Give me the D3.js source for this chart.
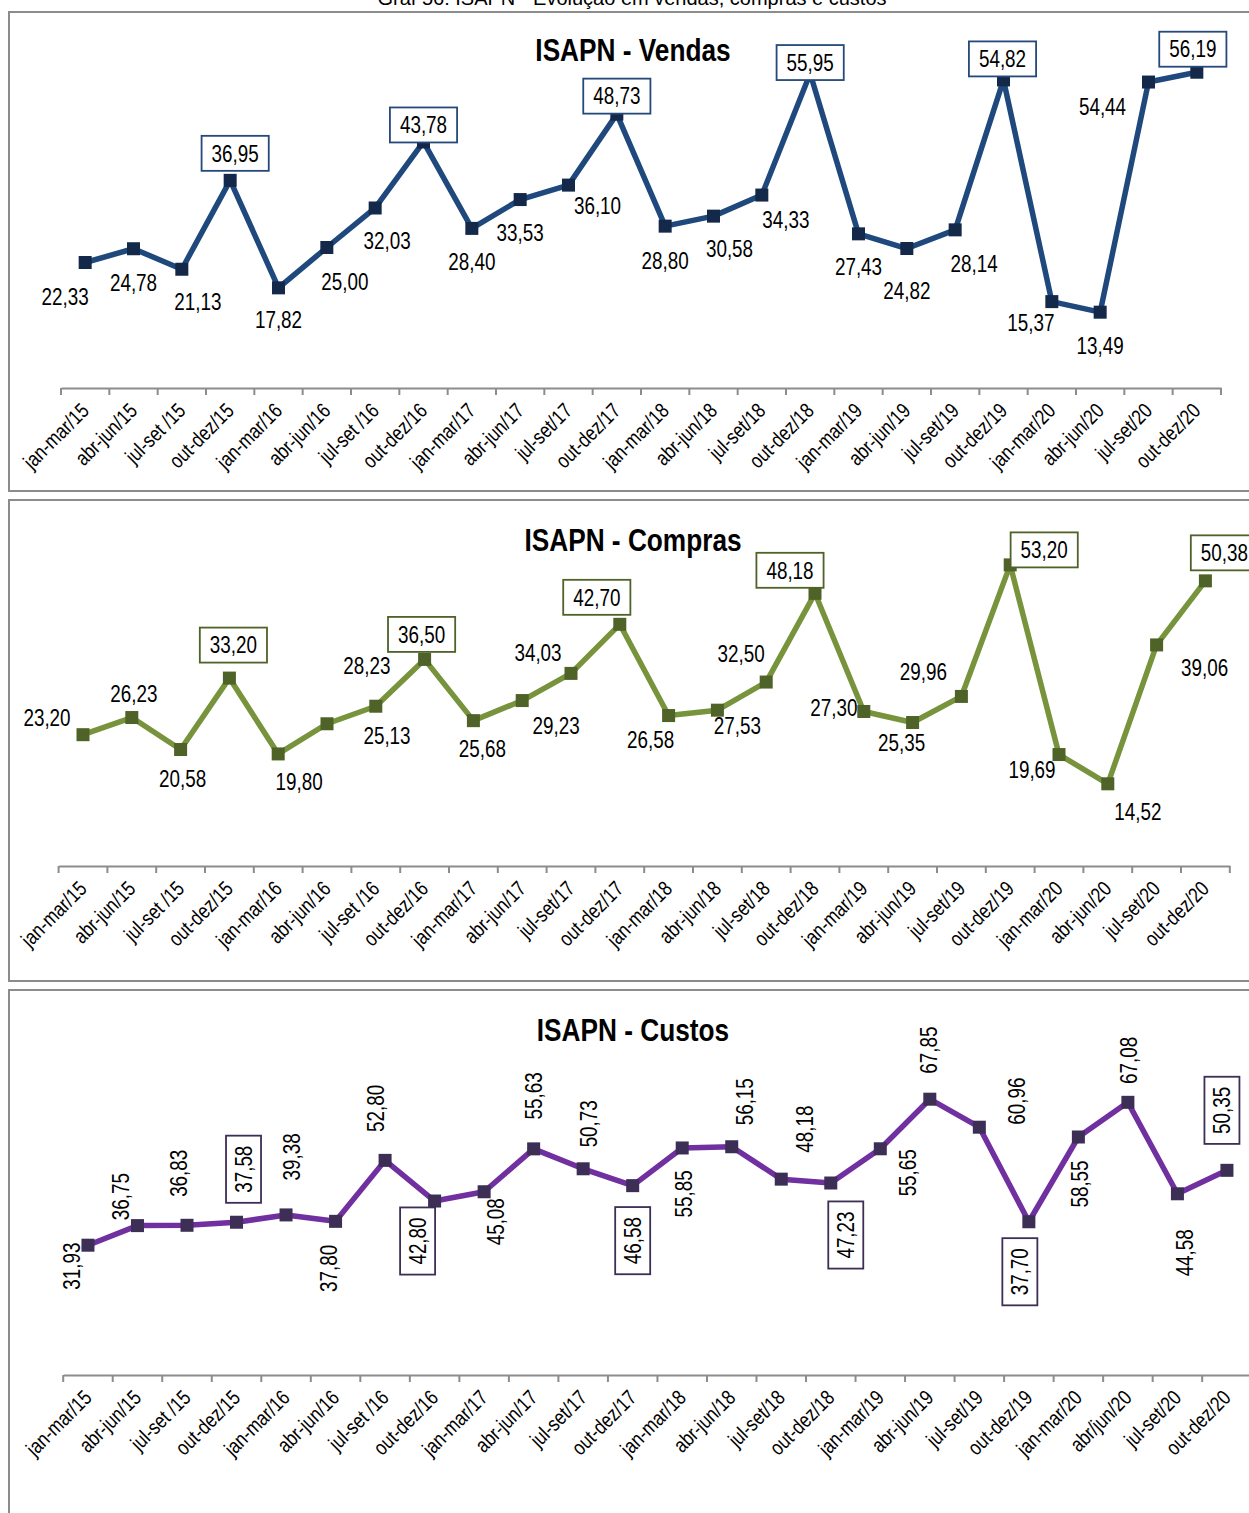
<!DOCTYPE html>
<html>
<head>
<meta charset="utf-8">
<script src="https://cdn.jsdelivr.net/npm/d3@7"></script>
<style>
  html, body { margin: 0; padding: 0; background: #fff; overflow: hidden; }
  svg { display: block; }
</style>
</head>
<body>
<svg id="chart" width="1249" height="1513"></svg>
<script>
// ---------- DATA ----------
const categories = ["jan-mar/15","abr-jun/15","jul-set /15","out-dez/15","jan-mar/16","abr-jun/16","jul-set /16","out-dez/16","jan-mar/17","abr-jun/17","jul-set/17","out-dez/17","jan-mar/18","abr-jun/18","jul-set/18","out-dez/18","jan-mar/19","abr-jun/19","jul-set/19","out-dez/19","jan-mar/20","abr-jun/20","jul-set/20","out-dez/20"];
const categoriesCustos = ["jan-mar/15","abr-jun/15","jul-set /15","out-dez/15","jan-mar/16","abr-jun/16","jul-set /16","out-dez/16","jan-mar/17","abr-jun/17","jul-set/17","out-dez/17","jan-mar/18","abr-jun/18","jul-set/18","out-dez/18","jan-mar/19","abr-jun/19","jul-set/19","out-dez/19","jan-mar/20","abr/jun/20","jul-set/20","out-dez/20"];
const vendas  = [22.33,24.78,21.13,36.95,17.82,25.00,32.03,43.78,28.40,33.53,36.10,48.73,28.80,30.58,34.33,55.95,27.43,24.82,28.14,54.82,15.37,13.49,54.44,56.19];
const compras = [23.20,26.23,20.58,33.20,19.80,25.13,28.23,36.50,25.68,29.23,34.03,42.70,26.58,27.53,32.50,48.18,27.30,25.35,29.96,53.20,19.69,14.52,39.06,50.38];
const custos  = [31.93,36.75,36.83,37.58,39.38,37.80,52.80,42.80,45.08,55.63,50.73,46.58,55.85,56.15,48.18,47.23,55.65,67.85,60.96,37.70,58.55,67.08,44.58,50.35];
const boxedIdx = [3,7,11,15,19,23];
const captionText = "Gráf 56: ISAPN - Evolução em vendas, compras e custos";
const titles = ["ISAPN - Vendas","ISAPN - Compras","ISAPN - Custos"];

// label placement (offset of label centre from its point, px)
const vendasLabelOff = [[-20,34],[0,34],[16,33],[5,-27],[0,32],[18,34],[12,33],[0,-17],[0,33],[0,33],[29,21],[0,-18],[0,35],[16,33],[24,25],[0,-11],[0,33],[0,42],[19,34],[-1,-21],[-21,21],[0,34],[-46,25],[-4,-23]];
const comprasLabelOff = [[-36,-17],[2,-24],[2,29],[4,-33],[21,28],[60,12],[-9,-40],[-3,-25],[9,28],[34,25],[-33,-21],[-23,-27],[-18,24],[20,16],[-25,-28],[-25,-23],[-30,-4],[-11,20],[-38,-25],[34,-15],[-27,15],[30,28],[48,23],[19,-28]];
const custosLabelOff = [[-16,21],[-17,-29],[-8,-52],[7,-53],[6,-58],[-7,47],[-9,-52],[-17,40],[12,30],[0,-53],[6,-45],[0,55],[2,46],[13,-45],[24,-50],[15,52],[28,24],[-1,-49],[37,-26],[-9,50],[1,47],[1,-42],[7,59],[-5,-60]];

// ---------- LAYOUT ----------
const FONT = "'Liberation Sans',Arial,sans-serif";
const NARROW = 0.82; // condense to mimic Arial Narrow
const svg = d3.select("#chart");

svg.append("text")
  .attr("x", 632).attr("y", 5)
  .attr("text-anchor", "middle")
  .attr("font-family", FONT)
  .attr("font-size", 20)
  .attr("fill", "#000")
  .text(captionText);

const panels = [
  { values: vendas, cats: categories, off: vendasLabelOff, title: titles[0],
    box: [9, 12, 1300, 479], titleY: 50, axisY: 388, x0: 61, x1: 1221, ppu: 5.62,
    line: "#1f497d", marker: "#14284a", boxStroke: "#25497a", rotate: false },
  { values: compras, cats: categories, off: comprasLabelOff, title: titles[1],
    box: [9, 500, 1300, 481], titleY: 540, axisY: 866, x0: 58.6, x1: 1229.8, ppu: 5.66,
    line: "#77933c", marker: "#4f6228", boxStroke: "#4f6228", rotate: false },
  { values: custos, cats: categoriesCustos, off: custosLabelOff, title: titles[2],
    box: [9, 990, 1300, 600], titleY: 1030, axisY: 1375, x0: 63.2, x1: 1251.7, ppu: 4.065,
    line: "#7030a0", marker: "#3d2e56", boxStroke: "#3d2e56", rotate: true }
];

const fmt = v => d3.format(".2f")(v).replace(".", ",");

panels.forEach(p => {
  const g = svg.append("g");
  g.append("rect")
    .attr("x", p.box[0]).attr("y", p.box[1])
    .attr("width", p.box[2]).attr("height", p.box[3])
    .attr("fill", "#fff").attr("stroke", "#8c8c8c").attr("stroke-width", 2);

  g.append("text")
    .attr("transform", `translate(633,${p.titleY}) scale(${NARROW},1)`)
    .attr("text-anchor", "middle").attr("dominant-baseline", "central")
    .attr("font-family", FONT).attr("font-weight", "bold").attr("font-size", 32)
    .attr("fill", "#000")
    .text(p.title);

  const idx = d3.range(p.values.length);
  const x = d3.scaleBand().domain(idx).range([p.x0, p.x1]).padding(0);
  const yMax = 70;
  const y = d3.scaleLinear().domain([0, yMax]).range([p.axisY, p.axisY - yMax * p.ppu]);
  const cx = i => x(i) + x.bandwidth() / 2;

  // axis
  const axis = d3.axisBottom(x).tickSize(0).tickFormat(i => p.cats[i]);
  const ax = g.append("g").attr("transform", `translate(0,${p.axisY})`).call(axis);
  ax.select(".domain").attr("stroke", "#8c8c8c").attr("stroke-width", 2);
  ax.selectAll(".tick line").remove();
  const bounds = d3.range(p.values.length + 1).map(i => p.x0 + i * x.bandwidth());
  ax.selectAll("line.bt").data(bounds).enter().append("line")
    .attr("class", "bt")
    .attr("x1", d => d).attr("x2", d => d).attr("y1", 0).attr("y2", 7)
    .attr("stroke", "#8c8c8c").attr("stroke-width", 2);
  ax.selectAll(".tick text")
    .attr("font-family", FONT).attr("font-size", 21).attr("fill", "#000")
    .attr("text-anchor", "end")
    .attr("y", 0).attr("dy", 0)
    .attr("transform", `translate(5,24) rotate(-45) scale(${NARROW},1)`);

  // line
  const line = d3.line().x((d, i) => cx(i)).y(d => y(d));
  g.append("path").datum(p.values)
    .attr("d", line).attr("fill", "none")
    .attr("stroke", p.line).attr("stroke-width", 5.5)
    .attr("stroke-linejoin", "round");

  // markers
  const ms = 13;
  g.selectAll("rect.mk").data(p.values).enter().append("rect")
    .attr("class", "mk")
    .attr("x", (d, i) => cx(i) - ms / 2).attr("y", d => y(d) - ms / 2)
    .attr("width", ms).attr("height", ms)
    .attr("fill", p.marker);

  // labels
  const lg = g.selectAll("g.lbl").data(p.values).enter().append("g")
    .attr("class", "lbl")
    .attr("transform", (d, i) => `translate(${cx(i) + p.off[i][0]},${y(d) + p.off[i][1]})` + (p.rotate ? " rotate(-90)" : ""));
  lg.each(function(d, i) {
    const s = d3.select(this);
    const boxed = boxedIdx.includes(i);
    const t = s.append("text")
      .attr("transform", `scale(${NARROW},1)`)
      .attr("text-anchor", "middle").attr("dominant-baseline", "central")
      .attr("font-family", FONT).attr("font-size", 23).attr("fill", "#000")
      .text(fmt(d));
    if (boxed) {
      const w = t.node().getComputedTextLength() * NARROW + 20;
      const h = 35;
      s.insert("rect", "text")
        .attr("x", -w / 2).attr("y", -h / 2).attr("width", w).attr("height", h)
        .attr("fill", "#fff").attr("stroke", p.boxStroke).attr("stroke-width", 1.8);
    }
  });
});
</script>
</body>
</html>
